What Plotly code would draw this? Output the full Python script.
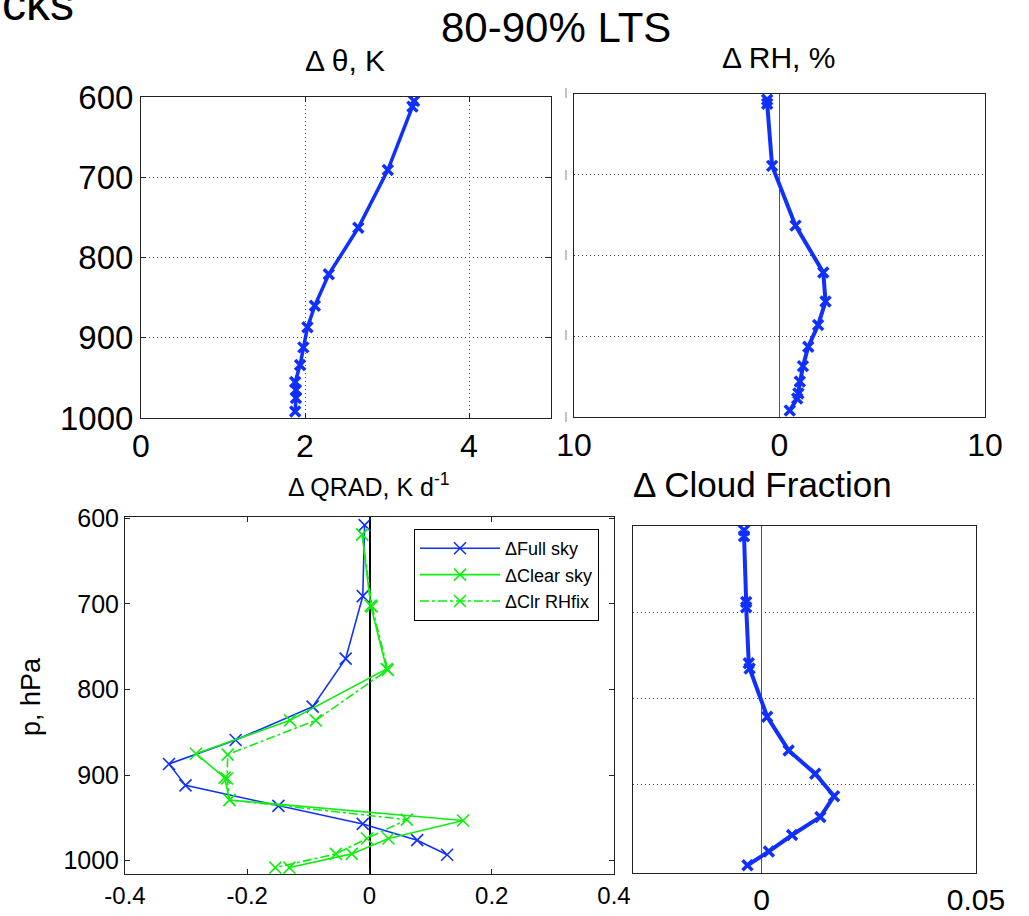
import plotly.graph_objects as go

W, H = 1029, 916
FONT = "Liberation Sans, Arial, Helvetica, sans-serif"
BLUE = "#1030ff"
GREEN = "#10ee10"

# ---- data ----
theta_p = [605, 612, 691, 763, 821, 860, 887, 912, 934, 955, 965, 975, 992]
theta_v = [3.33, 3.31, 3.01, 2.65, 2.29, 2.12, 2.03, 1.98, 1.94, 1.88, 1.89, 1.89, 1.88]

rh_p = [607, 612, 689, 763, 821, 857, 886, 913, 937, 956, 971, 977, 992]
rh_v = [-0.60, -0.60, -0.36, 0.78, 2.13, 2.24, 1.88, 1.40, 1.14, 0.99, 0.92, 0.86, 0.50]

full_p = [608, 691, 764, 820, 859, 887, 912, 936, 957, 976, 993]
full_v = [-0.008, -0.011, -0.039, -0.093, -0.219, -0.328, -0.301, -0.149, -0.011, 0.078, 0.127]

clear_p = [619, 702, 776, 836, 875, 903, 929, 953, 974, 992, 1008]
clear_v = [-0.012, 0.002, 0.028, -0.130, -0.284, -0.237, -0.229, 0.153, 0.031, -0.029, -0.131]

rhfix_p = [619, 703, 777, 836, 876, 904, 929, 952, 974, 992, 1008]
rhfix_v = [-0.012, 0.004, 0.030, -0.088, -0.232, -0.233, -0.229, 0.061, -0.004, -0.055, -0.154]

cf_p = [605, 612, 688, 694, 759, 765, 821, 860, 887, 913, 937, 958, 977, 993]
cf_v = [-0.0041, -0.0041, -0.0036, -0.0036, -0.0030, -0.0028, 0.0013, 0.0063, 0.0125,
        0.0169, 0.0137, 0.0071, 0.0017, -0.0033]

p_ticks = [600, 700, 800, 900, 1000]
p_labels = ["600", "700", "800", "900", "1000"]
p_grid = [700, 800, 900]


def px_x(a, b):
    return [a / W, b / W]


def px_y(top, bottom):
    return [1 - bottom / H, 1 - top / H]


fig = go.Figure()

fig.add_trace(go.Scatter(x=theta_v, y=theta_p, mode="lines+markers", xaxis="x", yaxis="y",
                         line=dict(color=BLUE, width=3.5),
                         marker=dict(symbol="x-thin", size=10, line=dict(color=BLUE, width=3.5)),
                         showlegend=False))
fig.add_trace(go.Scatter(x=rh_v, y=rh_p, mode="lines+markers", xaxis="x2", yaxis="y2",
                         line=dict(color=BLUE, width=4),
                         marker=dict(symbol="x-thin", size=10, line=dict(color=BLUE, width=3.5)),
                         showlegend=False))
fig.add_trace(go.Scatter(x=full_v, y=full_p, mode="lines+markers", xaxis="x3", yaxis="y3",
                         name="\u0394Full sky",
                         line=dict(color=BLUE, width=1.6),
                         marker=dict(symbol="x-thin", size=12, line=dict(color=BLUE, width=1.6))))
fig.add_trace(go.Scatter(x=clear_v, y=clear_p, mode="lines+markers", xaxis="x3", yaxis="y3",
                         name="\u0394Clear sky",
                         line=dict(color=GREEN, width=1.6),
                         marker=dict(symbol="x-thin", size=12, line=dict(color=GREEN, width=1.6))))
fig.add_trace(go.Scatter(x=rhfix_v, y=rhfix_p, mode="lines+markers", xaxis="x3", yaxis="y3",
                         name="\u0394Clr RHfix",
                         line=dict(color=GREEN, width=1.6, dash="dashdot"),
                         marker=dict(symbol="x-thin", size=12, line=dict(color=GREEN, width=1.6))))
fig.add_trace(go.Scatter(x=cf_v, y=cf_p, mode="lines+markers", xaxis="x4", yaxis="y4",
                         line=dict(color=BLUE, width=4),
                         marker=dict(symbol="x-thin", size=10, line=dict(color=BLUE, width=3.5)),
                         showlegend=False))

axcommon = dict(showline=True, linecolor="#222222", linewidth=1, mirror="allticks",
                ticks="inside", ticklen=5, tickcolor="#222222", automargin=False)
grid = dict(showgrid=True, gridcolor="#444444", griddash="1px,3px", gridwidth=1)

fig.update_layout(
    template="none",
    width=W, height=H, margin=dict(l=0, r=0, t=0, b=0, pad=0), autosize=False,
    paper_bgcolor="white", plot_bgcolor="white",
    font=dict(family=FONT, color="black"),
    # top-left
    xaxis=dict(domain=px_x(141, 551), anchor="y", range=[0, 5], tickvals=[0, 2, 4],
               ticktext=["0", "2", "4"], tickfont=dict(size=32), zeroline=False,
               **grid, **axcommon),
    yaxis=dict(domain=px_y(97, 418), anchor="x", range=[1000, 600], tickvals=p_ticks,
               ticktext=p_labels, tickfont=dict(size=33), zeroline=False,
               **grid, **axcommon),
    # top-right
    xaxis2=dict(domain=px_x(574, 985), anchor="y2", range=[-10, 10], tickvals=[-10, 0, 10],
                ticktext=["10", "0", "10"], tickfont=dict(size=32), showgrid=False,
                showline=True, linecolor="#222222", mirror=True, ticks="", zeroline=True,
                zerolinecolor="#555555", zerolinewidth=1, automargin=False),
    yaxis2=dict(domain=px_y(94, 417), anchor="x2", range=[1000, 600], tickvals=p_grid,
                showticklabels=False, showline=True, linecolor="#222222", mirror=True,
                ticks="", zeroline=False, automargin=False, **grid),
    # bottom-left
    xaxis3=dict(domain=px_x(125, 614), anchor="y3", range=[-0.4, 0.4],
                tickvals=[-0.4, -0.2, 0, 0.2, 0.4],
                ticktext=["-0.4", "-0.2", "0", "0.2", "0.4"], tickfont=dict(size=24),
                showgrid=False, zeroline=True, zerolinecolor="black", zerolinewidth=2,
                **axcommon),
    yaxis3=dict(domain=px_y(517, 874), anchor="x3", range=[1015.5, 598.5], tickvals=p_ticks,
                ticktext=p_labels, tickfont=dict(size=25), showgrid=False, zeroline=False,
                **axcommon),
    # bottom-right
    xaxis4=dict(domain=px_x(633, 976), anchor="y4", range=[-0.03, 0.05], tickvals=[0, 0.05],
                ticktext=["0", "0.05"], tickfont=dict(size=30), showgrid=False,
                showline=True, linecolor="#222222", mirror=True, ticks="", zeroline=True,
                zerolinecolor="#555555", zerolinewidth=1, automargin=False),
    yaxis4=dict(domain=px_y(526, 873), anchor="x4", range=[1002, 600], tickvals=p_grid,
                showticklabels=False, showline=True, linecolor="#222222", mirror=True,
                ticks="", zeroline=False, automargin=False, **grid),
    legend=dict(x=414 / W, y=1 - 529 / H, xanchor="left", yanchor="top",
                bgcolor="white", bordercolor="black", borderwidth=1,
                font=dict(size=18, family=FONT), tracegroupgap=0, itemwidth=80),
)

annots = [
    dict(text="cks", x=76 / W, y=1 - 32 / H, xanchor="right", yanchor="bottom", size=48),
    dict(text="80-90% LTS", x=556 / W, y=1 - 28 / H, xanchor="center", yanchor="middle", size=42),
    dict(text="\u0394 \u03b8, K", x=345 / W, y=1 - 60 / H, xanchor="center", yanchor="middle", size=30),
    dict(text="\u0394 RH, %", x=778 / W, y=1 - 57 / H, xanchor="center", yanchor="middle", size=30),
    dict(text="\u0394 QRAD, K d<sup>-1</sup>", x=368 / W, y=1 - 485 / H, xanchor="center",
         yanchor="middle", size=25),
    dict(text="\u0394 Cloud Fraction", x=762 / W, y=1 - 484 / H, xanchor="center",
         yanchor="middle", size=35),
]
for a in annots:
    fig.add_annotation(text=a["text"], x=a["x"], y=a["y"], xref="paper", yref="paper",
                       xanchor=a["xanchor"], yanchor=a["yanchor"], showarrow=False,
                       font=dict(size=a["size"], family=FONT, color="black"))
fig.add_annotation(text="p, hPa", x=31 / W, y=1 - 697 / H, xref="paper", yref="paper",
                   textangle=-90, showarrow=False, xanchor="center", yanchor="middle",
                   font=dict(size=27, family=FONT, color="black"))

for yy in [93, 175, 255, 335, 417]:
    fig.add_shape(type="line", xref="paper", yref="paper", x0=566 / W, x1=566 / W,
                  y0=1 - (yy - 5) / H, y1=1 - (yy + 5) / H,
                  line=dict(color="#888888", width=1))

fig.write_html("out.html", config={"displayModeBar": False},
               post_script="document.body.style.margin='0';")
